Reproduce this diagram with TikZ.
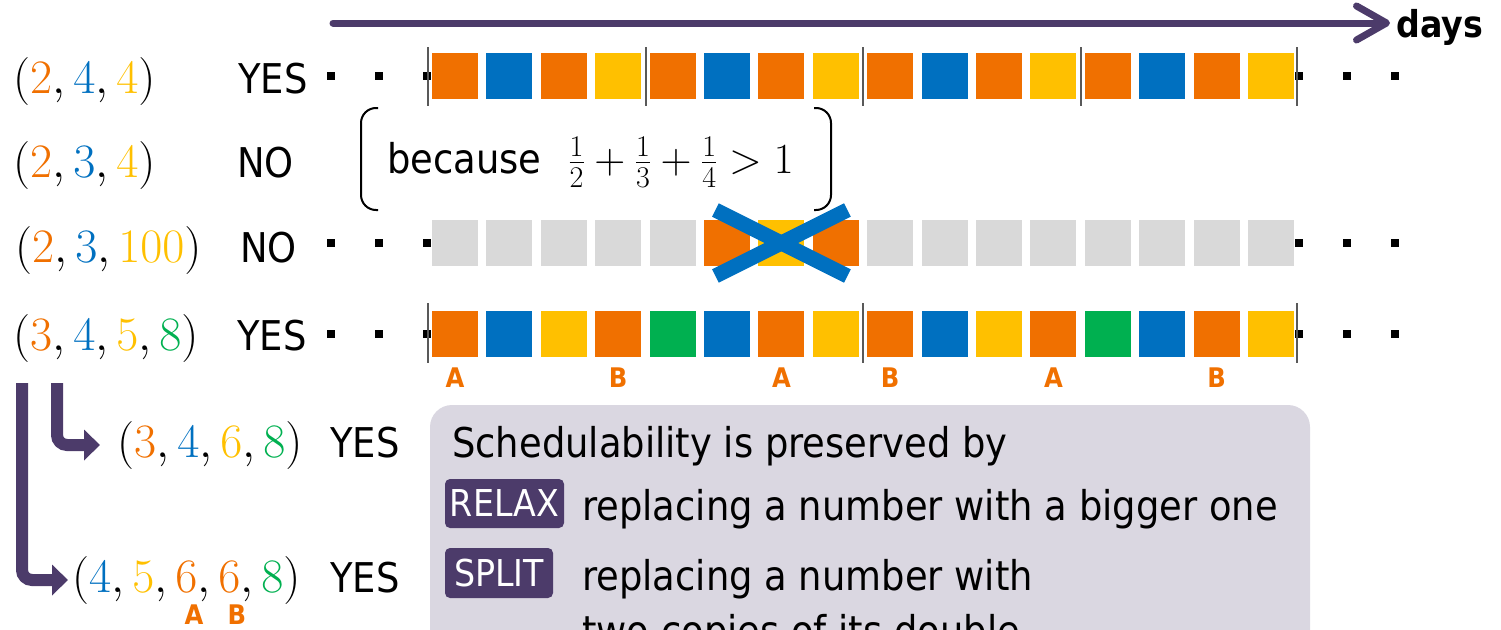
\RequirePackage{fix-cm}
\documentclass[tikz,border=0pt]{standalone}
\usepackage[no-math]{fontspec}
\setmainfont{DejaVu Sans}[FakeStretch=0.9]
\newcommand*{\rowfont}{\fontsize{41}{48}\selectfont}
\newcommand*{\tupfont}{\fontsize{48}{54}\selectfont}
\newcommand*{\mathfont}{\fontsize{43}{50}\selectfont}
\newcommand*{\labfont}{\fontsize{27}{30}\selectfont\bfseries}
\newcommand*{\daysfont}{\fontsize{37}{42}\selectfont\bfseries}
\newcommand*{\badgefont}{\fontsize{37}{42}\selectfont}
\definecolor{O}{RGB}{240,112,0}
\definecolor{B}{RGB}{0,112,192}
\definecolor{Y}{RGB}{255,192,0}
\definecolor{G}{RGB}{0,176,80}
\definecolor{N}{RGB}{217,217,217}
\definecolor{P}{RGB}{76,59,106}
\definecolor{boxgrey}{RGB}{218,215,225}
\definecolor{darkgrey}{RGB}{89,89,89}
\usetikzlibrary{arrows.meta}
\tikzstyle{sq}=[inner sep=0pt, outer sep=0pt, minimum size=46pt]
\tikzstyle{sqdot}=[fill=black, inner sep=0pt, minimum size=8pt]
\tikzstyle{cycmark}=[draw=darkgrey, line width=2pt]
\tikzstyle{tup}=[anchor=base west, inner sep=0pt, font=\tupfont]
\tikzstyle{wd}=[anchor=base west, inner sep=0pt, font=\rowfont]
\tikzstyle{lab}=[inner sep=0pt, text=O, font=\labfont]
\tikzstyle{brk}=[draw=black, line width=2pt, rounded corners=15pt]
\tikzstyle{xmark}=[draw=B, line width=15pt]
\tikzstyle{timeline}=[draw=P, line width=7pt, line cap=round, shorten >=6pt, -{Straight Barb[length=30pt,width=34pt,round]}]
\tikzstyle{daynode}=[anchor=west, inner sep=0pt, font=\daysfont]
\tikzstyle{turnarrow}=[draw=P, line width=12pt, rounded corners=10pt, -{Triangle[length=16pt,width=30pt]}]
\tikzstyle{badge}=[fill=P, text=white, rounded corners=5pt, inner sep=0pt, font=\badgefont]

\begin{document}
\begin{tikzpicture}[x=1pt, y=-1pt]
    \useasboundingbox (0,0) rectangle (1501,629);
    \clip (0,0) rectangle (1501,629);
    % time axis
    \coordinate (t0) at (333,23);
    \node [daynode] (days) at (1396,27) {days};
    \draw [timeline] (t0) -- (t0 -| days.west);
    % (2,4,4)
    \node [tup] (t1) at (13,93) {$(\textcolor{O}{2},\textcolor{B}{4},\textcolor{Y}{4})$};
    \node [wd] (w1) at (238,93) {YES};
    \foreach \c [count=\k from 0] in {O,B,O,Y,O,B,O,Y,O,B,O,Y,O,B,O,Y}
        \node [sq, fill=\c] (p\k) at ({455+54.4*\k},76) {};
    \foreach \x [count=\k] in {331,379,427,1299,1347,1395}
        \node [sqdot] (pd\k) at (\x,76) {};
    \foreach \x in {428,645.6,863.2,1080.8,1297}
        \draw [cycmark] (\x,47) -- (\x,106);
    % (2,3,4)
    \node [tup] (t2) at (13,177) {$(\textcolor{O}{2},\textcolor{B}{3},\textcolor{Y}{4})$};
    \node [wd] (w2) at (237,177) {NO};
    \node [wd] (why) at (387,173) {because\hspace{27pt}{\mathfont$\frac{1}{2}+\frac{1}{3}+\frac{1}{4}>1$}};
    \draw [brk] (378,108) -- (361,108) -- (361,210) -- (378,210);
    \draw [brk] (814,108) -- (831,108) -- (831,210) -- (814,210);
    % (2,3,100)
    \node [tup] (t3) at (15,262) {$(\textcolor{O}{2},\textcolor{B}{3},\textcolor{Y}{100})$};
    \node [wd] (w3) at (240,262) {NO};
    \foreach \c [count=\k from 0] in {N,N,N,N,N,O,Y,O,N,N,N,N,N,N,N,N}
        \node [sq, fill=\c] (q\k) at ({455+54.4*\k},243) {};
    \foreach \x [count=\k] in {331,379,427,1299,1347,1395}
        \node [sqdot] (qd\k) at (\x,243) {};
    \draw [xmark] ([shift={(-66,-33)}]q6.center) -- ([shift={(66,33)}]q6.center);
    \draw [xmark] ([shift={(-66,33)}]q6.center) -- ([shift={(66,-33)}]q6.center);
    % (3,4,5,8)
    \node [tup] (t4) at (13,350) {$(\textcolor{O}{3},\textcolor{B}{4},\textcolor{Y}{5},\textcolor{G}{8})$};
    \node [wd] (w4) at (237,350) {YES};
    \foreach \c [count=\k from 0] in {O,B,Y,O,G,B,O,Y,O,B,Y,O,G,B,O,Y}
        \node [sq, fill=\c] (r\k) at ({455+54.4*\k},334) {};
    \foreach \x [count=\k] in {331,379,427,1299,1347,1395}
        \node [sqdot] (rd\k) at (\x,334) {};
    \foreach \x in {428,863.2,1297}
        \draw [cycmark] (\x,303) -- (\x,363);
    \foreach \k/\t in {0/A,3/B,6/A,8/B,11/A,14/B}
        \node [lab] (l\k) at ([yshift=-44pt]r\k.center) {\t};
    % relaxed and split
    \node [tup] (t5) at (117,457) {$(\textcolor{O}{3},\textcolor{B}{4},\textcolor{Y}{6},\textcolor{G}{8})$};
    \node [wd] (w5) at (330,457) {YES};
    \node [tup] (t6) at (72,592) {$(\textcolor{B}{4},\textcolor{Y}{5},\textcolor{O}{6},\textcolor{O}{6},\textcolor{G}{8})$};
    \node [wd] (w6) at (330,592) {YES};
    \node [lab] (la) at (194,615) {A};
    \node [lab] (lb) at (237,615) {B};
    \coordinate (c5) at (57,383);
    \coordinate (c6) at (22,383);
    \draw [turnarrow, shorten >=17pt] (c5) |- (t5.west);
    \draw [turnarrow, shorten >=4pt] (c6) |- (t6.west);
    % rules box
    \fill [boxgrey, rounded corners=22pt] (430,405) rectangle (1310,720);
    \node [wd] (s0) at (452,457) {Schedulability is preserved by};
    \node [badge, minimum width=119pt, minimum height=49pt] (relax) at (504.5,503.5) {RELAX};
    \node [wd] (s1) at (582,520) {replacing a number with a bigger one};
    \node [badge, minimum width=108pt, minimum height=50pt] (split) at (499,573) {SPLIT};
    \node [wd] (s2) at (582,590) {replacing a number with};
    \node [wd] (s3) at (582,645) {two copies of its double};
\end{tikzpicture}
\end{document}
